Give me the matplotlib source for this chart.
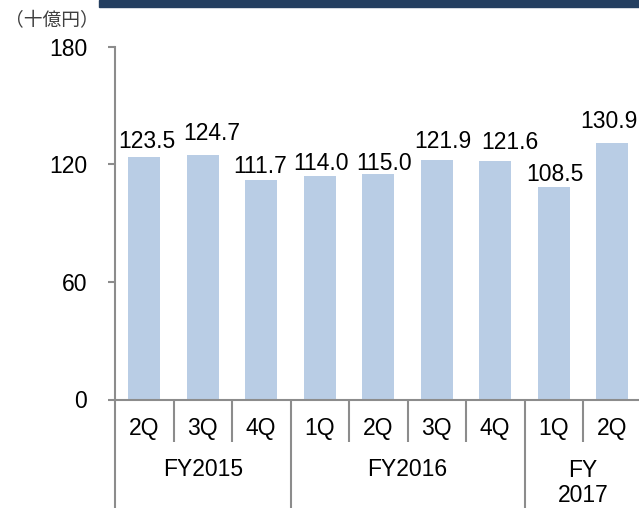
import matplotlib
matplotlib.use("Agg")
import matplotlib.pyplot as plt
import matplotlib.transforms as mtransforms
from matplotlib.patches import Rectangle

plt.rcParams["font.family"] = ["Liberation Sans", "DejaVu Sans"]

# data
quarters = ["2Q", "3Q", "4Q", "1Q", "2Q", "3Q", "4Q", "1Q", "2Q"]
sales = [123.5, 124.7, 111.7, 114.0, 115.0, 121.9, 121.6, 108.5, 130.9]
fiscal_years = ["FY2015", "FY2016", "FY\n2017"]
group_sizes = [3, 4, 2]
y_ticks = [0, 60, 120, 180]

# label nudges (px) as placed in the original
label_dx = [3, 9, -1, 1, 6, 6, 15, 1, -3]
label_dy = [9, 15, 7, 6, 4, 12, 12, 6, 15]

W, H = 639, 508
fs = 16.5
fig = plt.figure(figsize=(W / 100, H / 100), dpi=100)

ax_left, ax_right = 115, 641.5
ax_top, ax_bottom = 46.5, 399.5
ax = fig.add_axes([ax_left / W, 1 - ax_bottom / H,
                   (ax_right - ax_left) / W, (ax_bottom - ax_top) / H])

axis_grey = "#8c8c8c"
x = list(range(len(sales)))
ax.bar(x, sales, width=0.555, color="#b9cde5", zorder=2)

for i, v in enumerate(sales):
    ax.annotate(f"{v:.1f}", (i, v), xytext=(label_dx[i] * 0.72, label_dy[i] * 0.72),
                textcoords="offset points", ha="center", va="baseline", fontsize=fs)

ax.set_xlim(-0.5, len(sales) - 0.5)
ax.set_ylim(0, 180)
ax.set_yticks(y_ticks)
ax.tick_params(axis="y", direction="out", length=5, width=1.5, color=axis_grey,
               labelsize=fs, pad=15)
ax.set_xticks([])

for s in ["top", "right"]:
    ax.spines[s].set_visible(False)
for s in ["left", "bottom"]:
    ax.spines[s].set_color(axis_grey)
    ax.spines[s].set_linewidth(1.5)

# two level category axis
trans = mtransforms.blended_transform_factory(ax.transData, ax.transAxes)
ax_h = ax_bottom - ax_top
short_end = -(441.7 - ax_bottom) / ax_h
long_end = -(H - ax_bottom) / ax_h

for i, q in enumerate(quarters):
    ax.text(i, -(429 - ax_bottom) / ax_h, q, transform=trans, ha="center",
            va="center", fontsize=fs)

boundaries = [0]
for n in group_sizes:
    boundaries.append(boundaries[-1] + n)

for i in range(len(sales)):
    edge = i - 0.5
    end = long_end if i in boundaries else short_end
    ax.plot([edge, edge], [0, end], transform=trans, color=axis_grey, lw=1.5,
            clip_on=False, solid_capstyle="butt")

for k, fy in enumerate(fiscal_years):
    mid = (boundaries[k] + boundaries[k + 1] - 1) / 2
    ypix = 482.75 if "\n" in fy else 469.5
    ax.text(mid, -(ypix - ax_bottom) / ax_h, fy, transform=trans, ha="center",
            va="center", fontsize=fs, linespacing=1.1)

# unit label and title band
fig.text(52 / W, 1 - 21 / H, "（十億円）", ha="center", va="center", fontsize=13.5,
         color="#404040", family=["Noto Sans CJK JP", "DejaVu Sans"])
fig.patches.append(Rectangle((99 / W, 1 - 7 / H), 1 - 99 / W, 7 / H,
                             transform=fig.transFigure, color="#243f60"))

fig.savefig("out.png", dpi=100)
